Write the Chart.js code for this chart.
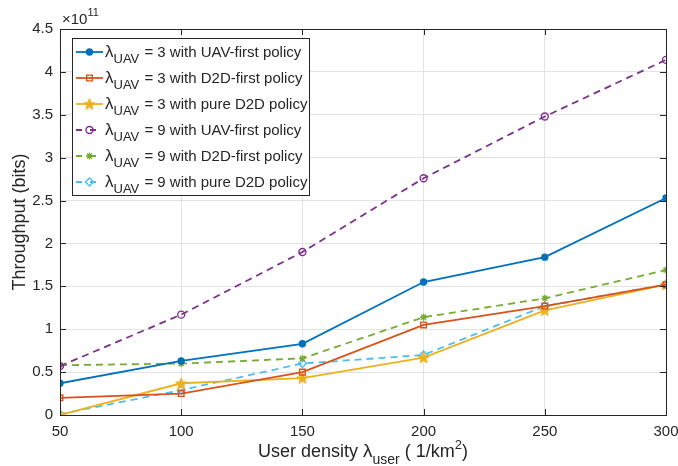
<!DOCTYPE html>
<html><head><meta charset="utf-8">
<script src="https://cdn.jsdelivr.net/npm/chart.js@4"></script>
<style>html,body{margin:0;padding:0;background:#fff}#wrap{width:678px;height:466px;position:relative}</style>
</head><body><div id="wrap"><canvas id="c" width="678" height="466"></canvas></div>
<script>
const xValues = [50, 100, 150, 200, 250, 300];
const uavFirst3 = [0.37, 0.63, 0.83, 1.55, 1.84, 2.53];
const d2dFirst3 = [0.20, 0.25, 0.50, 1.05, 1.27, 1.52];
const pureD2D3 = [0.00, 0.37, 0.43, 0.67, 1.22, 1.52];
const uavFirst9 = [0.57, 1.17, 1.90, 2.76, 3.48, 4.14];
const d2dFirst9 = [0.58, 0.60, 0.66, 1.14, 1.36, 1.69];
const pureD2D9 = [0.01, 0.29, 0.60, 0.70, 1.27, 1.52];
const xTicks = [50, 100, 150, 200, 250, 300];
const yTicks = [0, 0.5, 1, 1.5, 2, 2.5, 3, 3.5, 4, 4.5];
const lambdaValues = ['3', '3', '3', '9', '9', '9'];
const policyLabels = ['UAV-first policy', 'D2D-first policy', 'pure D2D policy', 'UAV-first policy', 'D2D-first policy', 'pure D2D policy'];

const FONT = '"Liberation Sans", Arial, Helvetica, sans-serif';
const TXT = '#262626';

function pentagram(color, size) {
  const c = document.createElement('canvas');
  c.width = size; c.height = size;
  const g = c.getContext('2d');
  const cx = size / 2, cy = size / 2 + 0.5, R = size / 2 - 0.5, r = R * 0.42;
  g.beginPath();
  for (let i = 0; i < 10; i++) {
    const rad = i % 2 === 0 ? R : r;
    const a = -Math.PI / 2 + i * Math.PI / 5;
    const px = cx + rad * Math.cos(a), py = cy + rad * Math.sin(a);
    if (i === 0) g.moveTo(px, py); else g.lineTo(px, py);
  }
  g.closePath();
  g.fillStyle = color; g.fill();
  g.strokeStyle = color; g.lineWidth = 1; g.stroke();
  return c;
}

function pts(arr) { return xValues.map((x, i) => ({x: x, y: arr[i]})); }

const styles = [
  {c: '#0072BD', dash: [], ps: 'circle', r: 3, fill: '#0072BD'},
  {c: '#D95319', dash: [], ps: 'rect', r: 4, fill: 'rgba(0,0,0,0)'},
  {c: '#EDB120', dash: [], ps: pentagram('#EDB120', 13), r: 6, fill: '#EDB120'},
  {c: '#7E2F8E', dash: [7, 5], ps: 'circle', r: 3.5, fill: 'rgba(0,0,0,0)'},
  {c: '#77AC30', dash: [7, 5], ps: 'star', r: 3.5, fill: '#77AC30'},
  {c: '#4DBEEE', dash: [7, 5], ps: 'rectRot', r: 4, fill: 'rgba(0,0,0,0)'}
];
const series = [uavFirst3, d2dFirst3, pureD2D3, uavFirst9, d2dFirst9, pureD2D9];

const datasets = series.map((s, i) => ({
  label: 'λUAV = ' + lambdaValues[i] + ' with ' + policyLabels[i],
  data: pts(s),
  borderColor: styles[i].c,
  backgroundColor: styles[i].fill,
  borderWidth: 1.8,
  borderDash: styles[i].dash,
  pointStyle: styles[i].ps,
  pointRadius: styles[i].r,
  pointBorderWidth: 1.4,
  pointBorderColor: styles[i].c,
  pointBackgroundColor: styles[i].fill,
  tension: 0,
  fill: false
}));

const decor = {
  id: 'decor',
  afterDraw(chart) {
    const ctx = chart.ctx;
    const a = chart.chartArea;
    const xs = chart.scales.x, ys = chart.scales.y;
    ctx.save();
    ctx.strokeStyle = TXT; ctx.lineWidth = 1; ctx.setLineDash([]);
    ctx.strokeRect(Math.round(a.left) + 0.5, Math.round(a.top) + 0.5, Math.round(a.right - a.left), Math.round(a.bottom - a.top));
    ctx.beginPath();
    xTicks.forEach(t => {
      const px = Math.round(xs.getPixelForValue(t)) + 0.5;
      ctx.moveTo(px, a.bottom); ctx.lineTo(px, a.bottom - 6);
      ctx.moveTo(px, a.top); ctx.lineTo(px, a.top + 6);
    });
    yTicks.forEach(t => {
      const py = Math.round(ys.getPixelForValue(t)) + 0.5;
      ctx.moveTo(a.left, py); ctx.lineTo(a.left + 6, py);
      ctx.moveTo(a.right, py); ctx.lineTo(a.right - 6, py);
    });
    ctx.stroke();
    ctx.fillStyle = TXT;
    ctx.textBaseline = 'alphabetic'; ctx.textAlign = 'left';
    ctx.font = '15px ' + FONT;
    ctx.fillText('×10', a.left + 2, a.top - 5);
    const w10 = ctx.measureText('×10').width;
    ctx.font = '11px ' + FONT;
    ctx.fillText('11', a.left + 2 + w10, a.top - 13);
    ctx.save();
    ctx.translate(25, (a.top + a.bottom) / 2);
    ctx.rotate(-Math.PI / 2);
    ctx.font = '18px ' + FONT; ctx.textAlign = 'center';
    ctx.fillText('Throughput (bits)', 0, 0);
    ctx.restore();
    const parts = [
      {t: 'User density ', f: '18px', dy: 0},
      {t: 'λ', f: '19px', dy: 0},
      {t: 'user', f: '14px', dy: 7},
      {t: ' ( 1/km', f: '18px', dy: 0},
      {t: '2', f: '13px', dy: -8},
      {t: ')', f: '18px', dy: 0}
    ];
    let tw = 0;
    parts.forEach(p => { ctx.font = p.f + ' ' + FONT; p.w = ctx.measureText(p.t).width; tw += p.w; });
    let x0 = (a.left + a.right) / 2 - tw / 2;
    const yb = 457;
    parts.forEach(p => { ctx.font = p.f + ' ' + FONT; ctx.fillText(p.t, x0, yb + p.dy); x0 += p.w; });
    const L = {x: 72, y: 38, w: 237, h: 157};
    ctx.fillStyle = '#fff';
    ctx.fillRect(L.x, L.y, L.w, L.h);
    ctx.strokeStyle = TXT; ctx.lineWidth = 1;
    ctx.strokeRect(L.x + 0.5, L.y + 0.5, L.w, L.h);
    chart.data.datasets.forEach((ds, i) => {
      const ry = 52 + i * 26;
      ctx.save();
      ctx.strokeStyle = ds.borderColor; ctx.lineWidth = 1.8;
      ctx.setLineDash(ds.borderDash.length ? [6, 8] : []);
      ctx.beginPath(); ctx.moveTo(76, ry); ctx.lineTo(103, ry); ctx.stroke();
      ctx.setLineDash([]);
      ctx.fillStyle = ds.pointBackgroundColor; ctx.strokeStyle = ds.pointBorderColor; ctx.lineWidth = ds.pointBorderWidth;
      Chart.helpers.drawPoint(ctx, {pointStyle: ds.pointStyle, radius: ds.pointRadius, rotation: 0, borderWidth: ds.pointBorderWidth}, 89.5, ry);
      ctx.restore();
      ctx.fillStyle = TXT; ctx.textAlign = 'left'; ctx.textBaseline = 'alphabetic';
      let tx = 105;
      ctx.font = '17px ' + FONT; ctx.fillText('λ', tx, ry + 5); tx += ctx.measureText('λ').width;
      ctx.font = '13px ' + FONT; ctx.fillText('UAV', tx, ry + 11); tx += ctx.measureText('UAV').width;
      ctx.font = '15px ' + FONT; ctx.fillText(' = ' + lambdaValues[i] + ' with ' + policyLabels[i], tx + 1, ry + 5);
    });
    ctx.restore();
  }
};

new Chart(document.getElementById('c'), {
  type: 'line',
  data: {datasets: datasets},
  plugins: [decor],
  options: {
    responsive: false,
    animation: false,
    layout: {padding: {top: 29, right: 12, left: 0, bottom: 0}},
    plugins: {legend: {display: false}, tooltip: {enabled: false}},
    scales: {
      x: {
        type: 'linear', min: 50, max: 300,
        afterFit: s => { s.height = 51; s.paddingLeft = 0; s.paddingRight = 0; },
        afterBuildTicks: s => { s.ticks = xTicks.map(v => ({value: v})); },
        grid: {color: '#e3e3e3', drawTicks: false, lineWidth: 1},
        border: {display: false},
        ticks: {color: TXT, font: {size: 15, family: FONT}, padding: 8, maxRotation: 0}
      },
      y: {
        type: 'linear', min: 0, max: 4.5,
        afterFit: s => { s.width = 60; s.paddingTop = 0; s.paddingBottom = 0; },
        afterBuildTicks: s => { s.ticks = yTicks.map(v => ({value: v})); },
        grid: {color: '#e3e3e3', drawTicks: false, lineWidth: 1},
        border: {display: false},
        ticks: {color: TXT, font: {size: 15, family: FONT}, padding: 7, callback: v => String(v)}
      }
    }
  }
});
</script></body></html>
